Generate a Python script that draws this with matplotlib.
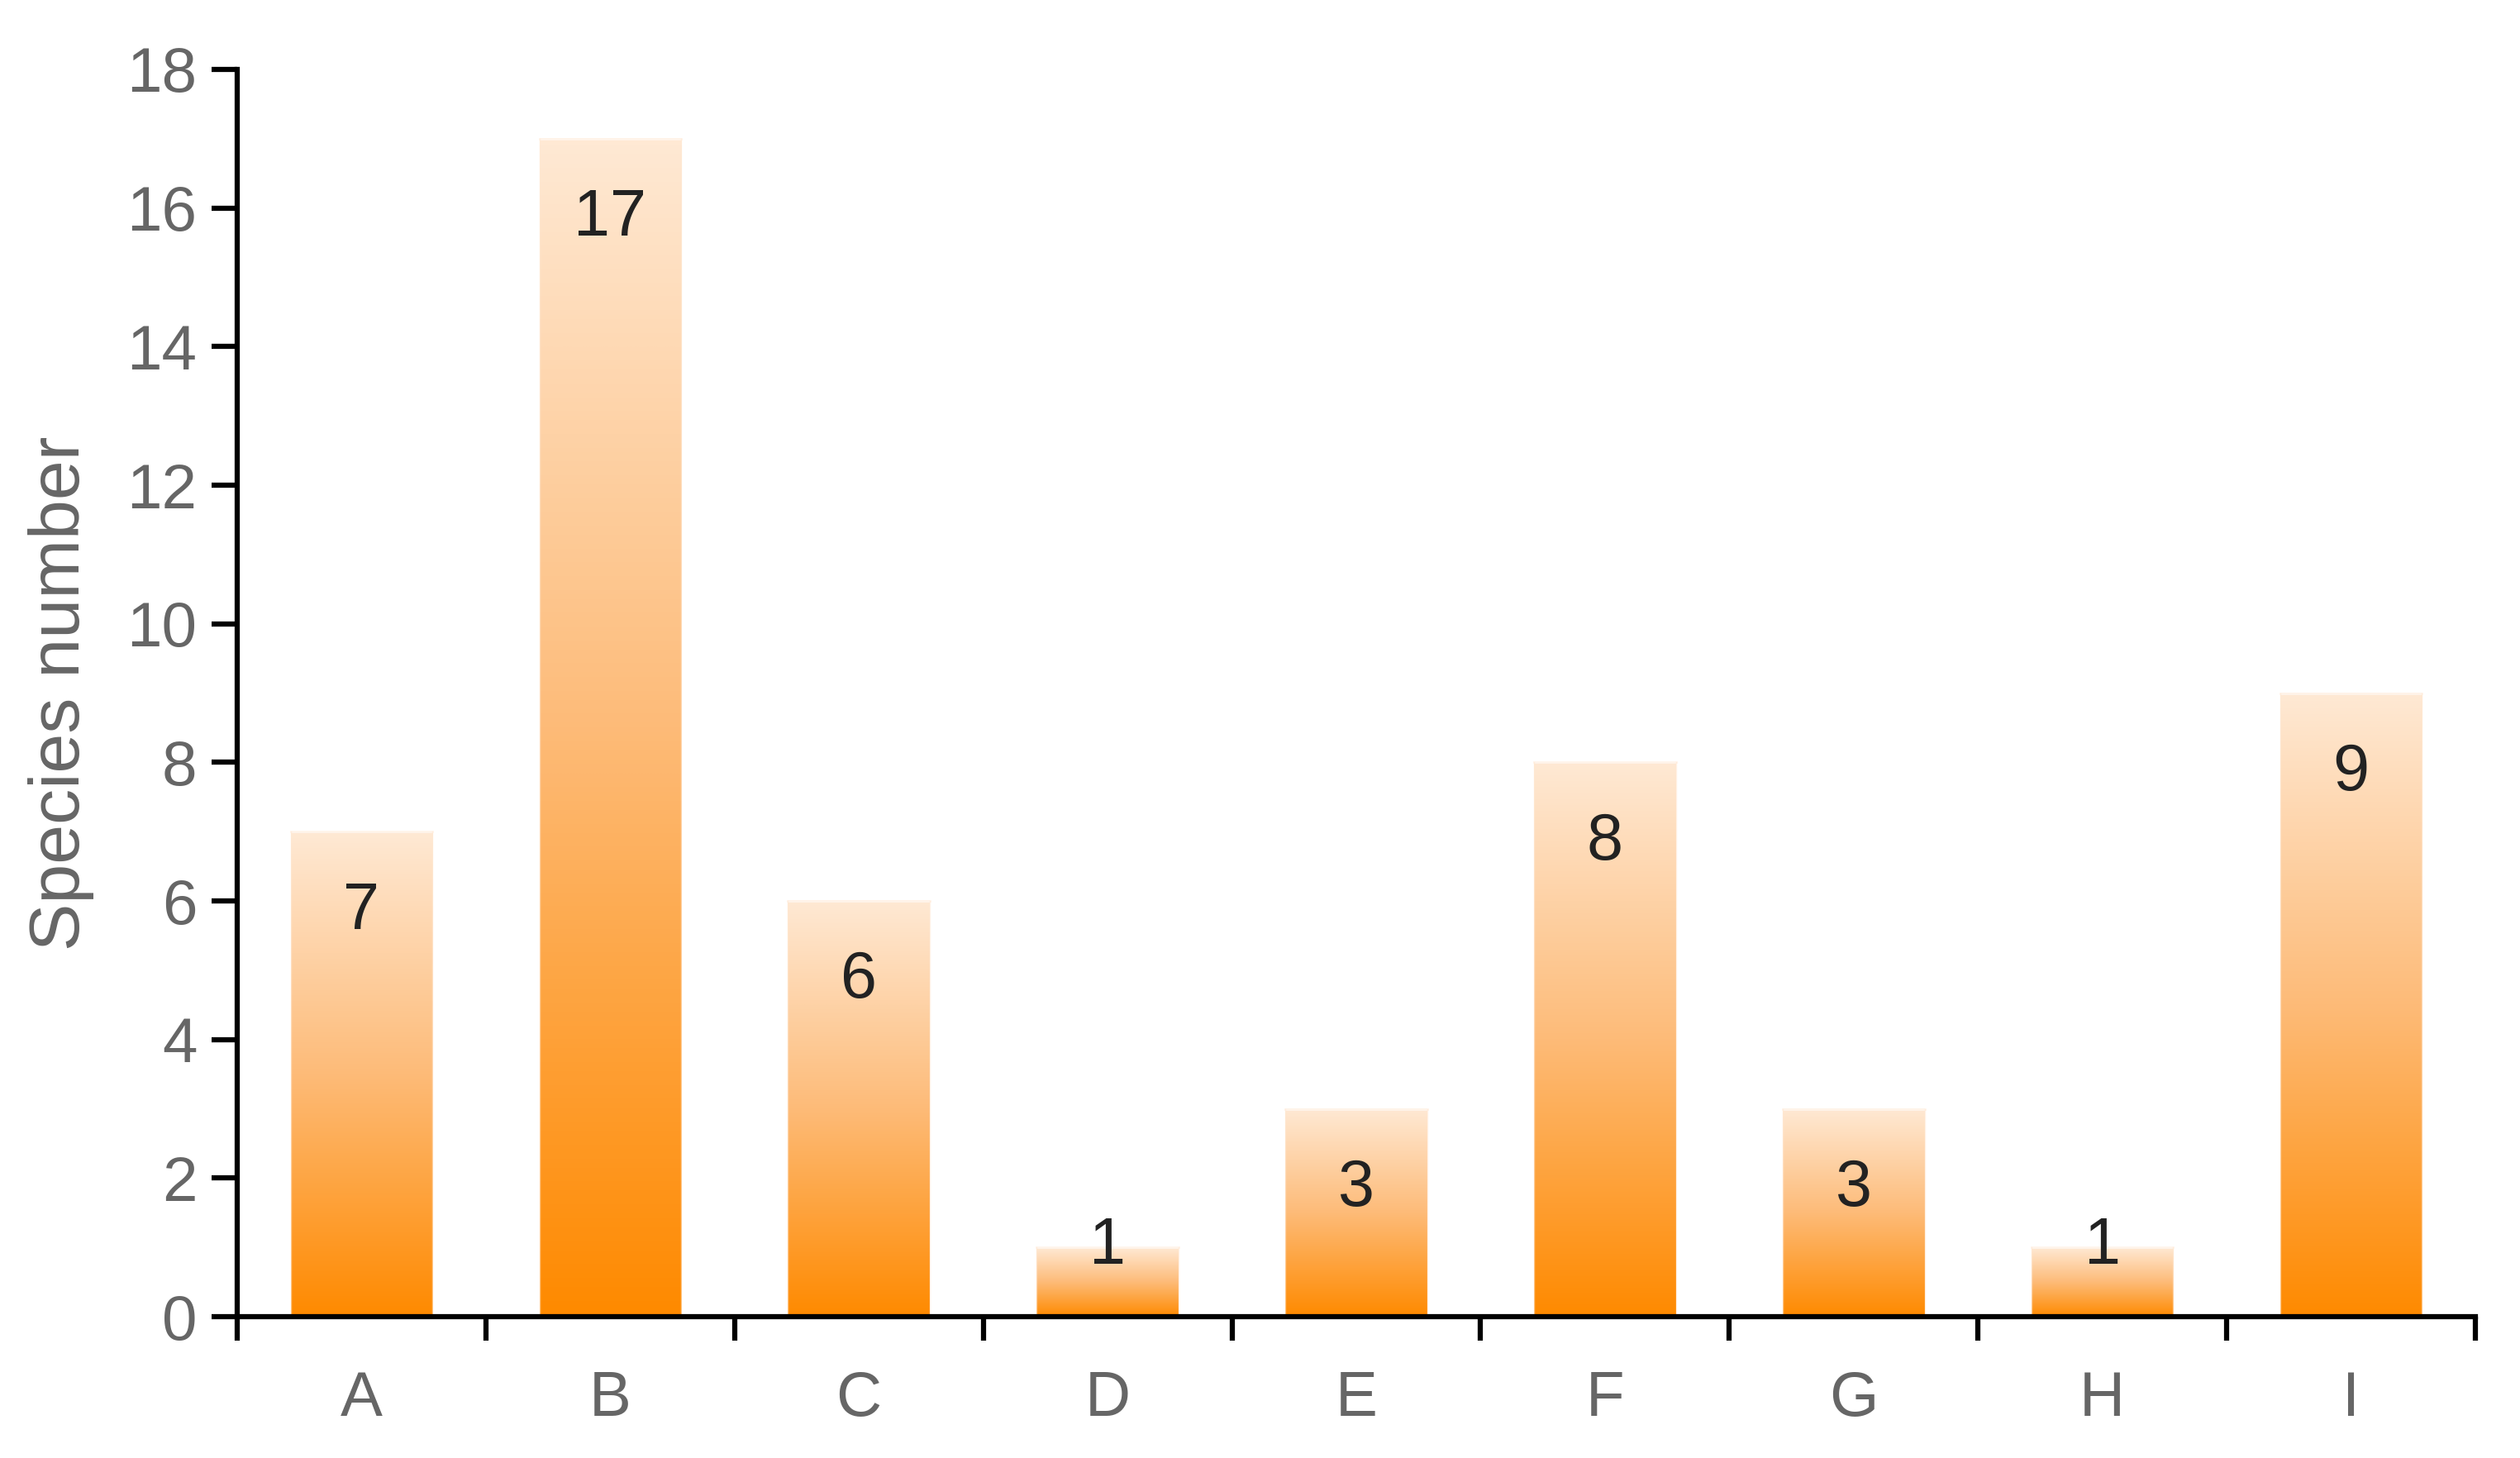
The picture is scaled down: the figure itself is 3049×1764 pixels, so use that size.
import numpy as np
import matplotlib
matplotlib.use('Agg')
import matplotlib.pyplot as plt
from matplotlib.colors import LinearSegmentedColormap

# data
categories = ['A', 'B', 'C', 'D', 'E', 'F', 'G', 'H', 'I']
species = [7, 17, 6, 1, 3, 8, 3, 1, 9]

plt.rcParams['font.family'] = ['Liberation Sans', 'DejaVu Sans']

fig = plt.figure(figsize=(30.49, 17.64), dpi=100)
ax = fig.add_axes([0.0941, 0.0969, 0.8882, 0.8555])

cmap = LinearSegmentedColormap.from_list('orange_grad', ['#ff8a00', '#fdbb78', '#ffe9d4'])
grad = np.linspace(0, 1, 256).reshape(-1, 1)

bar_w = 0.57
for i, v in enumerate(species):
    x0 = i + 0.5 - bar_w / 2
    x1 = i + 0.5 + bar_w / 2
    ax.imshow(grad, extent=[x0, x1, 0, v], origin='lower', aspect='auto',
              cmap=cmap, interpolation='bilinear', zorder=2)
    ax.plot([x0, x1], [v, v], color='#fff4ea', lw=2, zorder=3)
    ax.plot([x0, x0], [0, v], color='#ffe9d4', lw=1, alpha=0.6, zorder=3)
    ax.plot([x1, x1], [0, v], color='#ffe9d4', lw=1, alpha=0.6, zorder=3)
    # value label, baseline just under the bar top
    ax.text(i + 0.5, max(v - 1.40, 0.77), str(v), ha='center', va='baseline',
            fontsize=57, color='#222222', zorder=4)

ax.set_xlim(0, len(categories))
ax.set_ylim(0, 18)

for s in ['top', 'right']:
    ax.spines[s].set_visible(False)
for s in ['left', 'bottom']:
    ax.spines[s].set_linewidth(4.5)
    ax.spines[s].set_color('black')
    ax.spines[s].set_zorder(5)

ax.set_yticks(range(0, 19, 2))
ax.tick_params(axis='y', direction='out', length=22, width=4.5, pad=13,
               labelsize=55, labelcolor='#666666')

ax.set_xticks(range(len(categories) + 1))
ax.set_xticklabels([])
ax.set_xticks([i + 0.5 for i in range(len(categories))], minor=True)
ax.set_xticklabels(categories, minor=True)
ax.tick_params(axis='x', which='major', direction='out', length=21, width=4.5)
ax.tick_params(axis='x', which='minor', length=0, pad=47,
               labelsize=55, labelcolor='#666666')

ax.set_ylabel('Species number', fontsize=62, color='#666666')
ax.yaxis.set_label_coords(-0.064, 0.5)

fig.savefig('out.png', dpi=100)
